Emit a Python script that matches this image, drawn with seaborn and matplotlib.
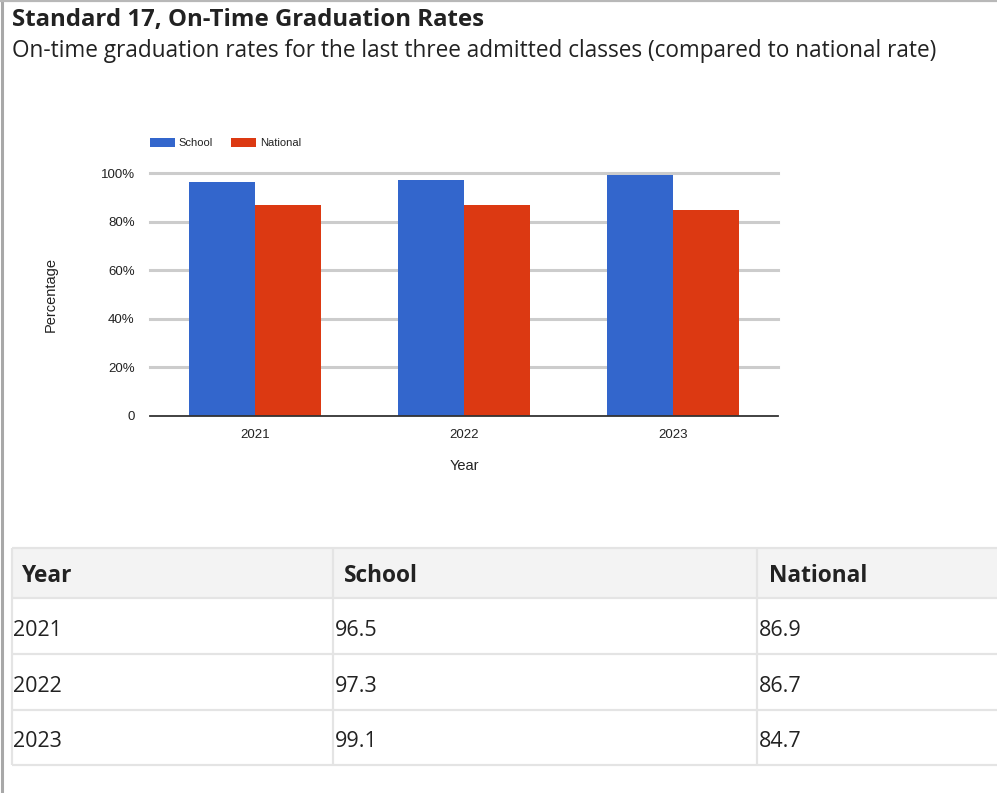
import matplotlib
matplotlib.use("Agg")
import matplotlib.pyplot as plt
from matplotlib.patches import Rectangle
import seaborn as sns
import pandas as pd

# Data
years = ["2021", "2022", "2023"]
school = [96.5, 97.3, 99.1]
national = [86.9, 86.7, 84.7]
series_names = ["School", "National"]
y_ticks = [0, 20, 40, 60, 80, 100]
y_tick_labels = ["0", "20%", "40%", "60%", "80%", "100%"]
table_header = ["Year", "School", "National"]

colors = {"School": "#3366cc", "National": "#dc3912"}

df = pd.DataFrame({
    "Year": years * 2,
    "Series": ["School"] * len(years) + ["National"] * len(years),
    "Rate": school + national,
})

W, H = 997, 793
fig = plt.figure(figsize=(W / 100, H / 100), dpi=100)
fig.patch.set_facecolor("white")

# Page layer in pixel coordinates (text, table, frame)
page = fig.add_axes([0, 0, 1, 1], zorder=0)
page.set_xlim(0, W)
page.set_ylim(H, 0)
page.axis("off")

# frame edges
page.plot([1.5, 1.5], [0, H], color="#a8a8a8", lw=2.2, solid_capstyle="butt")
page.plot([0, W], [1, 1], color="#b8b8b8", lw=1.6, solid_capstyle="butt")

page.text(12, 26, "Standard 17, On-Time Graduation Rates", fontfamily="Open Sans",
          fontweight="bold", fontsize=17.3, color="#222222", va="baseline")
page.text(12, 57, "On-time graduation rates for the last three admitted classes "
          "(compared to national rate)", fontfamily="Open Sans", fontsize=16.3,
          color="#222222", va="baseline")

# Bar chart
ax = fig.add_axes([150 / W, 1 - 416 / H, 628 / W, 243 / H], zorder=2)
ax.patch.set_alpha(0)
for v in y_ticks[1:]:
    ax.axhline(v, color="#cccccc", lw=2.2, zorder=0, clip_on=False)
sns.barplot(data=df, x="Year", y="Rate", hue="Series", hue_order=series_names,
            palette=colors, width=0.63, saturation=1, linewidth=0,
            legend=False, ax=ax, zorder=2)
ax.set_ylim(0, 100)
ax.set_xlim(-0.5, len(years) - 0.5)
ax.set_yticks(y_ticks)
ax.set_yticklabels(y_tick_labels)
for s in ["top", "right", "left"]:
    ax.spines[s].set_visible(False)
ax.spines["bottom"].set_color("#333333")
ax.spines["bottom"].set_linewidth(1.3)
ax.spines["bottom"].set_zorder(3)
ax.tick_params(axis="both", length=0, labelsize=9.5, colors="#222222")
ax.tick_params(axis="y", pad=11)
ax.tick_params(axis="x", pad=9)
for lab in ax.get_xticklabels() + ax.get_yticklabels():
    lab.set_fontfamily("Liberation Sans")
ax.set_ylabel("Percentage", fontfamily="Liberation Sans", fontsize=10.5, color="#222222")
ax.yaxis.set_label_coords(-0.1465, 0.5)
ax.set_xlabel("Year", fontfamily="Liberation Sans", fontsize=10.5, color="#222222")
ax.xaxis.set_label_coords(0.5, -0.206)
ax.xaxis.label.set_va("center")

handles = [Rectangle((0, 0), 1, 1, facecolor=colors[n], edgecolor="none") for n in series_names]
leg = fig.legend(handles, series_names, loc="center left",
                 bbox_to_anchor=(150 / W, 1 - 143 / H), ncol=2, frameon=False,
                 prop={"family": "Liberation Sans", "size": 8},
                 handlelength=2.25, handleheight=0.9, handletextpad=0.3,
                 columnspacing=1.7, borderaxespad=0, borderpad=0)
for t in leg.get_texts():
    t.set_color("#222222")

# Data table
col_x = [12, 333, 757, W]
row_y = [548, 598, 654, 710, 765]
page.add_patch(Rectangle((12, 548), W - 12, 50, facecolor="#f3f3f3", edgecolor="none", zorder=1))
for y in row_y:
    page.plot([12, W], [y, y], color="#e4e4e4", lw=1.6, zorder=2, solid_capstyle="butt")
for x in col_x[:3]:
    page.plot([x, x], [548, 765], color="#e4e4e4", lw=1.6, zorder=2, solid_capstyle="butt")

header_x = [22, 344, 769]
for x, label in zip(header_x, table_header):
    page.text(x, 582, label, fontfamily="Open Sans", fontweight="bold", fontsize=16.3,
              color="#222222", va="baseline", zorder=3)

value_x = [13, 335, 759]
baselines = [636, 692, 747]
for i in range(len(years)):
    row = [years[i], f"{school[i]:.1f}", f"{national[i]:.1f}"]
    for x, txt in zip(value_x, row):
        page.text(x, baselines[i], txt, fontfamily="Open Sans", fontsize=15.5,
                  color="#222222", va="baseline", zorder=3)

fig.savefig("out.png", dpi=100, facecolor="white")
